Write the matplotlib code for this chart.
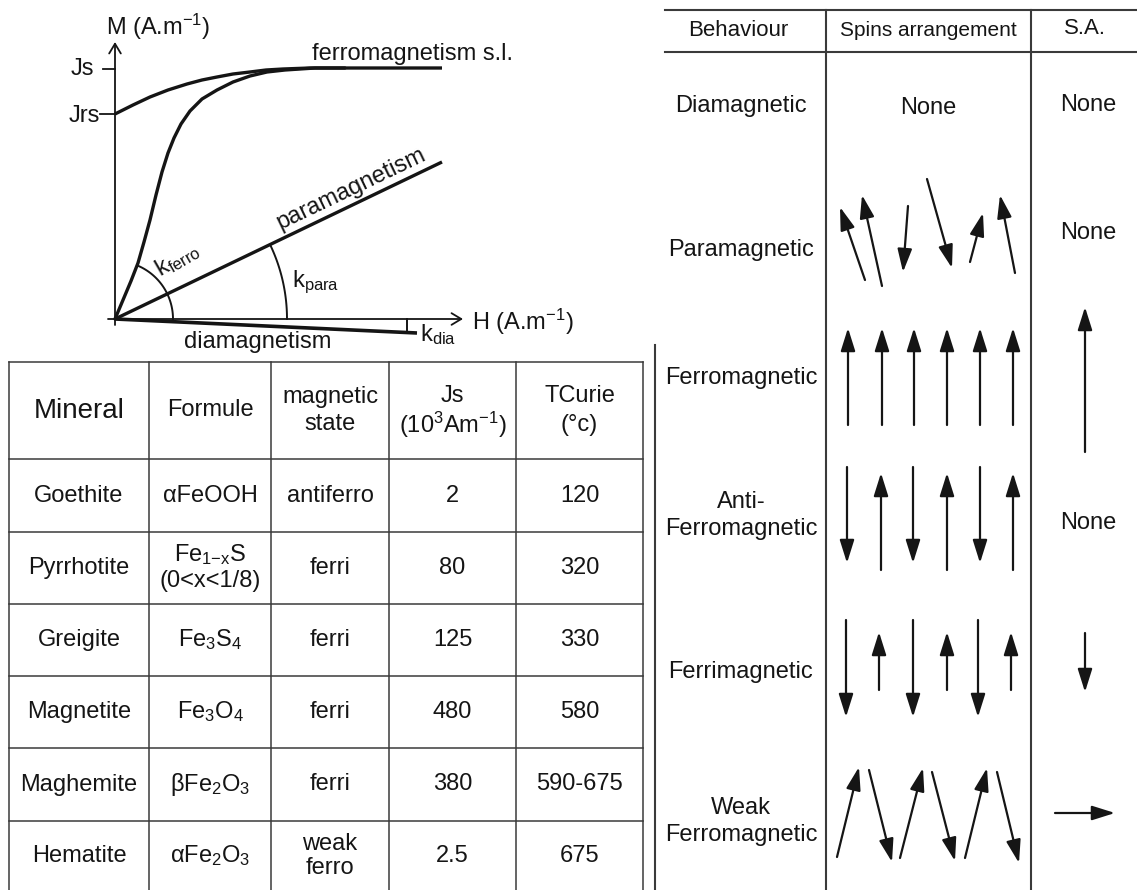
import numpy as np
import matplotlib.pyplot as plt
from matplotlib import transforms

plt.rcParams['font.family'] = ['Liberation Sans', 'DejaVu Sans']
plt.rcParams['mathtext.fontset'] = 'custom'
plt.rcParams['mathtext.rm'] = 'Liberation Sans'
plt.rcParams['mathtext.it'] = 'Liberation Sans:italic'
plt.rcParams['mathtext.default'] = 'regular'

# --- magnetisation sketch (H, M in drawing units, origin at axes crossing)
init_H = [0, 8, 16, 23, 29, 35, 41, 47, 53, 59, 66, 75, 87, 102, 118, 135, 152, 170, 200, 230]
init_M = [0, 19, 38, 56, 77, 99, 124, 147, 166, 181, 195, 208, 220, 229, 237, 243, 247, 249, 251, 251]
hyst_H = [0, 18, 35, 53, 72, 87, 102, 118, 135, 151, 168, 195, 218, 327]
hyst_M = [205, 214, 222, 229, 235, 239, 242, 245, 247, 249, 250, 251, 251, 251]
para_H = [0, 327]
para_M = [0, 157]
dia_H = [0, 302]
dia_M = [0, -14]
Js, Jrs = 250, 205
k_ferro_r, k_ferro_deg = 58, 66.5
k_para_r, k_para_deg = 172, 25.6
k_dia_H = 292

# --- minerals table
header = ['Mineral', 'Formule', 'magnetic\nstate', 'Js\n(10$^{3}$Am$^{-1}$)', 'TCurie\n(°c)']
minerals = ['Goethite', 'Pyrrhotite', 'Greigite', 'Magnetite', 'Maghemite', 'Hematite']
formulas = ['αFeOOH', 'Fe$_{1{-}x}$S\n(0<x<1/8)', 'Fe$_{3}$S$_{4}$', 'Fe$_{3}$O$_{4}$',
            'βFe$_{2}$O$_{3}$', 'αFe$_{2}$O$_{3}$']
states = ['antiferro', 'ferri', 'ferri', 'ferri', 'ferri', 'weak\nferro']
js_vals = ['2', '80', '125', '480', '380', '2.5']
tcurie = ['120', '320', '330', '580', '590-675', '675']
col_x = [9, 149, 271, 389, 516, 643]
row_y = [362, 459, 532, 604, 676, 748, 821, 891]

# --- spins table
sp_header = ['Behaviour', 'Spins arrangement', 'S.A.']
behaviours = ['Diamagnetic', 'Paramagnetic', 'Ferromagnetic', 'Anti-\nFerromagnetic',
              'Ferrimagnetic', 'Weak\nFerromagnetic']
behaviour_y = [106, 250, 378, 515, 672, 821]
sa_none_y = [105, 233, 523]
para_spins = [(865, 280, 840, 207), (882, 286, 862, 195), (908, 206, 903, 272),
              (927, 179, 952, 268), (970, 262, 983, 213), (1015, 273, 1000, 195)]
ferro_x = [848, 882, 914, 947, 980, 1013]
anti_x = [847, 881, 913, 947, 980, 1013]
ferri_down_x = [846, 913, 978]
ferri_up_x = [879, 947, 1011]
weak_spins = [(837, 857, 859, 767), (869, 770, 892, 862), (900, 858, 923, 768),
              (932, 772, 955, 861), (965, 858, 987, 768), (997, 772, 1019, 863)]
sa_arrows = [(1085, 452, 1085, 307), (1085, 633, 1085, 692), (1055, 813, 1115, 813)]

INK = '#151515'
GRID = '#3a3a3a'

fig = plt.figure(figsize=(11.37, 8.9), dpi=100)
ax = fig.add_axes([0, 0, 1, 1])
ax.set_xlim(0, 1137)
ax.set_ylim(890, 0)
ax.axis('off')

# graph coordinates: origin at pixel (115, 319), M upward
g = transforms.Affine2D().scale(1, -1).translate(115, 319) + ax.transData

def arrow(x0, y0, x1, y1, style='-|>,head_length=0.7,head_width=0.22', ms=20, lw=1.6, tr=None):
    ax.annotate('', xy=(x1, y1), xytext=(x0, y0),
                xycoords=tr or 'data', textcoords=tr or 'data',
                arrowprops=dict(arrowstyle=style, mutation_scale=ms, lw=lw, color=INK,
                                shrinkA=0, shrinkB=0))

# axes of the sketch
arrow(0, -6, 0, 277, style='->,head_length=0.5,head_width=0.3', ms=14, lw=1.3, tr=g)
arrow(-7, 0, 348, 0, style='->,head_length=0.5,head_width=0.3', ms=14, lw=1.3, tr=g)
ax.plot([-12, 0], [Js, Js], color=INK, lw=1.3, transform=g)
ax.plot([-15, 0], [Jrs, Jrs], color=INK, lw=1.3, transform=g)

ax.plot(init_H, init_M, color=INK, lw=2.4, transform=g, solid_capstyle='round',
        solid_joinstyle='round')
ax.plot(hyst_H, hyst_M, color=INK, lw=2.4, transform=g, solid_capstyle='butt',
        solid_joinstyle='round')
ax.plot(para_H, para_M, color=INK, lw=2.4, transform=g, solid_capstyle='butt')
ax.plot(dia_H, dia_M, color=INK, lw=2.6, transform=g, solid_capstyle='butt')

t = np.radians(np.linspace(0, k_ferro_deg, 40))
ax.plot(k_ferro_r * np.cos(t), k_ferro_r * np.sin(t), color=INK, lw=1.4, transform=g)
t = np.radians(np.linspace(0, k_para_deg, 60))
ax.plot(k_para_r * np.cos(t), k_para_r * np.sin(t), color=INK, lw=1.4, transform=g)
ax.plot([k_dia_H, k_dia_H], [0, dia_M[1] * k_dia_H / dia_H[1]], color=INK, lw=1.4, transform=g)

fs = 17
ax.text(106, 35, 'M (A.m$^{-1}$)', fontsize=fs, color=INK, ha='left', va='baseline')
ax.text(472, 330, 'H (A.m$^{-1}$)', fontsize=fs, color=INK, ha='left', va='baseline')
ax.text(94, 75, 'Js', fontsize=fs, color=INK, ha='right', va='baseline')
ax.text(100, 122, 'Jrs', fontsize=fs, color=INK, ha='right', va='baseline')
ax.text(312, 60, 'ferromagnetism s.l.', fontsize=fs, color=INK, ha='left', va='baseline')
ax.text(356, 199, 'paramagnetism', fontsize=fs, color=INK, ha='center', va='bottom',
        rotation=k_para_deg, rotation_mode='anchor')
ax.text(184, 348, 'diamagnetism', fontsize=fs, color=INK, ha='left', va='baseline')
ax.text(177, 259, 'k$_{ferro}$', fontsize=fs, color=INK, ha='center', va='center',
        rotation=30, rotation_mode='anchor')
ax.text(292, 287, 'k$_{para}$', fontsize=fs, color=INK, ha='left', va='baseline')
ax.text(420, 341, 'k$_{dia}$', fontsize=fs, color=INK, ha='left', va='baseline')

# --- minerals table grid
for y in row_y[:-1]:
    ax.plot([col_x[0], col_x[-1]], [y, y], color=GRID, lw=1.1)
for x in col_x:
    ax.plot([x, x], [row_y[0], 890], color=GRID, lw=1.1)

def cell(text, ci, ri, size=17, gap=26):
    cx = (col_x[ci] + col_x[ci + 1]) / 2
    cy = (row_y[ri] + row_y[ri + 1]) / 2
    lines = text.split('\n')
    offs = np.arange(len(lines)) * gap - (len(lines) - 1) * gap / 2
    for line, o in zip(lines, offs):
        ax.text(cx, cy + o, line, fontsize=size, color=INK, ha='center', va='center')

for ci, h in enumerate(header):
    cell(h, ci, 0, size=20 if ci == 0 else 17, gap=28)
for ri in range(len(minerals)):
    gap = 23 if ri == 5 else 27
    cell(minerals[ri], 0, ri + 1)
    cell(formulas[ri], 1, ri + 1, gap=gap)
    cell(states[ri], 2, ri + 1, gap=gap)
    cell(js_vals[ri], 3, ri + 1)
    cell(tcurie[ri], 4, ri + 1)

# --- spins table
for y in [10, 52]:
    ax.plot([665, 1137], [y, y], color=GRID, lw=1.5)
for x in [826, 1031]:
    ax.plot([x, x], [10, 890], color=GRID, lw=1.5)
ax.plot([655, 655], [345, 890], color=GRID, lw=1.5)

ax.text(738, 30, sp_header[0], fontsize=16, color=INK, ha='center', va='center')
ax.text(928, 31, sp_header[1], fontsize=15, color=INK, ha='center', va='center')
ax.text(1085, 29, sp_header[2], fontsize=16, color=INK, ha='center', va='center')

for b, y in zip(behaviours, behaviour_y):
    lines = b.split('\n')
    offs = np.arange(len(lines)) * 27 - (len(lines) - 1) * 27 / 2
    for line, o in zip(lines, offs):
        ax.text(741, y + o, line, fontsize=17, color=INK, ha='center', va='center')

ax.text(928, 108, 'None', fontsize=17, color=INK, ha='center', va='center')
for y in sa_none_y:
    ax.text(1088, y, 'None', fontsize=17, color=INK, ha='center', va='center')

for s in para_spins + weak_spins + sa_arrows:
    arrow(*s)
for x in ferro_x:
    arrow(x, 425, x, 328)
for i, x in enumerate(anti_x):
    if i % 2 == 0:
        arrow(x, 467, x, 563)
    else:
        arrow(x, 570, x, 473)
for x in ferri_down_x:
    arrow(x, 620, x, 717)
for x in ferri_up_x:
    arrow(x, 690, x, 632)

fig.savefig('out.png', dpi=100)
